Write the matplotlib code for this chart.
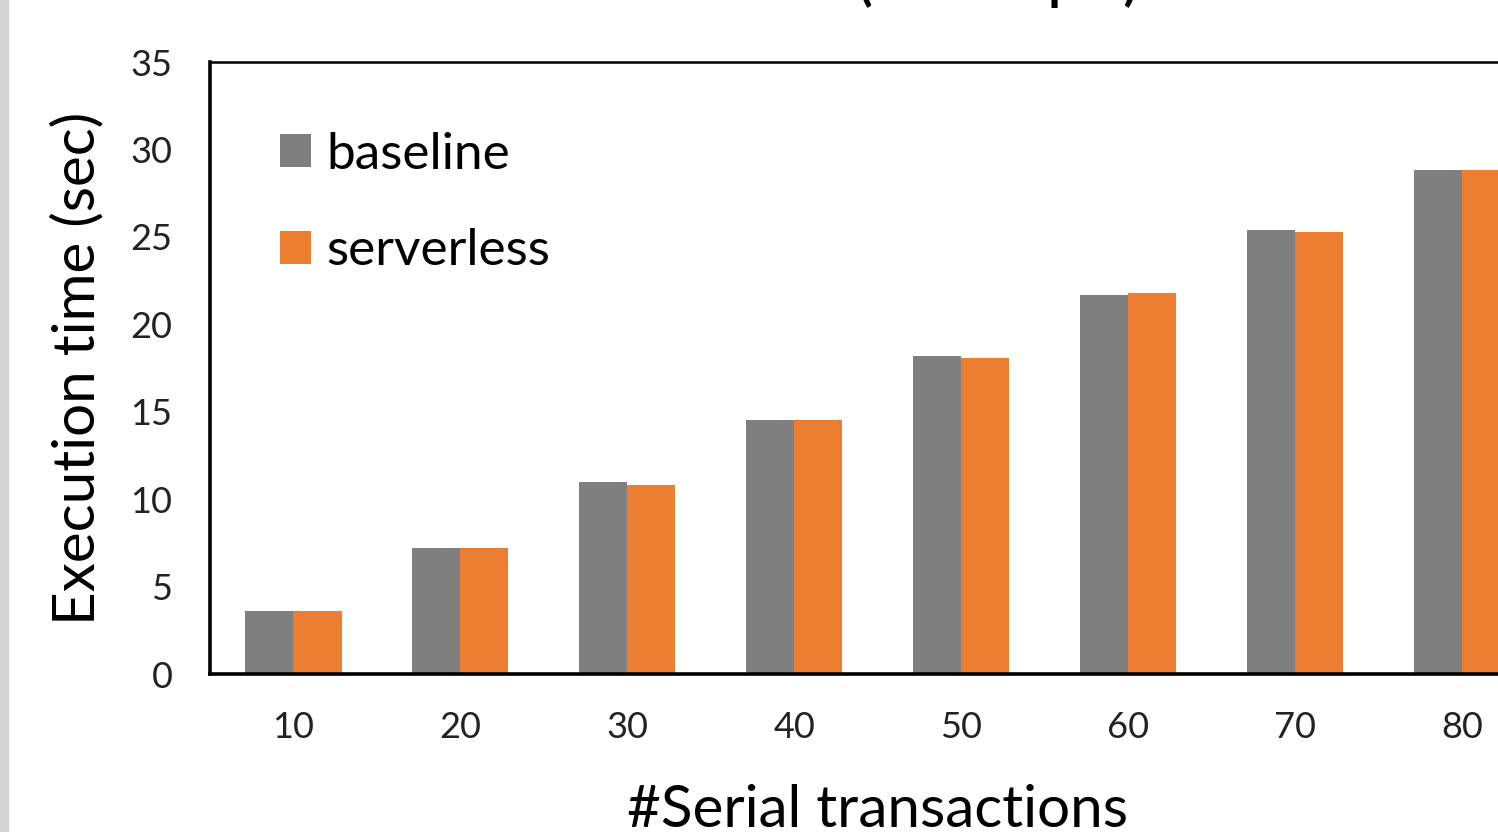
import matplotlib as mpl
mpl.use('Agg')
import matplotlib.pyplot as plt
import numpy as np

categories = ['10', '20', '30', '40', '50', '60', '70', '80']
baseline = [3.6, 7.2, 11.0, 14.5, 18.2, 21.7, 25.4, 28.8]
serverless = [3.6, 7.2, 10.8, 14.5, 18.1, 21.8, 25.3, 28.8]

cgray = '#7f7f7f'
corange = '#ed7d31'
fname = 'Lato'

plt.rcParams['font.family'] = fname

my_dpi = 100
fig = plt.figure(figsize=(1498/my_dpi, 832/my_dpi), dpi=my_dpi)

# light gray strip on the left edge
fig.patches.append(mpl.patches.Rectangle((0, 0), 8/1498, 1, transform=fig.transFigure,
                                         color='#d4d4d4', zorder=0))

# axes runs past the right edge of the picture
ax = fig.add_axes([210/1498, 1 - 674/832, 1335.5/1498, 612/832])

x = np.arange(len(categories))
w = 0.288
ax.bar(x - w/2, baseline, w, color=cgray, label='baseline')
ax.bar(x + w/2, serverless, w, color=corange, label='serverless')

ax.set_xlim(-0.5, len(categories) - 0.5)
ax.set_ylim(0, 35)
ax.set_yticks(range(0, 36, 5))
ax.set_xticks(x)
ax.set_xticklabels(categories)
ax.tick_params(length=0, labelsize=26, colors='#222222')
ax.tick_params(axis='y', pad=27)
ax.tick_params(axis='x', pad=27)

for s in ['left', 'bottom']:
    ax.spines[s].set_linewidth(2.6)
ax.spines['top'].set_linewidth(1.8)
ax.spines['right'].set_linewidth(1.8)

ax.set_ylabel('Execution time (sec)', fontsize=42)
ax.yaxis.set_label_coords(-0.079, 0.5)
ax.set_xlabel('#Serial transactions', fontsize=42)
ax.xaxis.set_label_coords(0.5, -0.18)

leg = ax.legend(loc='upper left', bbox_to_anchor=(0.037, 0.92), frameon=False,
                fontsize=37, handlelength=0.6, handleheight=0.6,
                handletextpad=0.3, labelspacing=0.99, borderaxespad=0)

# title is mostly cut off at the top of the picture
fig.text(825/1498, 1.0, 'Execution time (Serial input)', fontsize=36,
         fontweight='bold', ha='center', va='baseline')

plt.savefig('out.png', dpi=my_dpi)
